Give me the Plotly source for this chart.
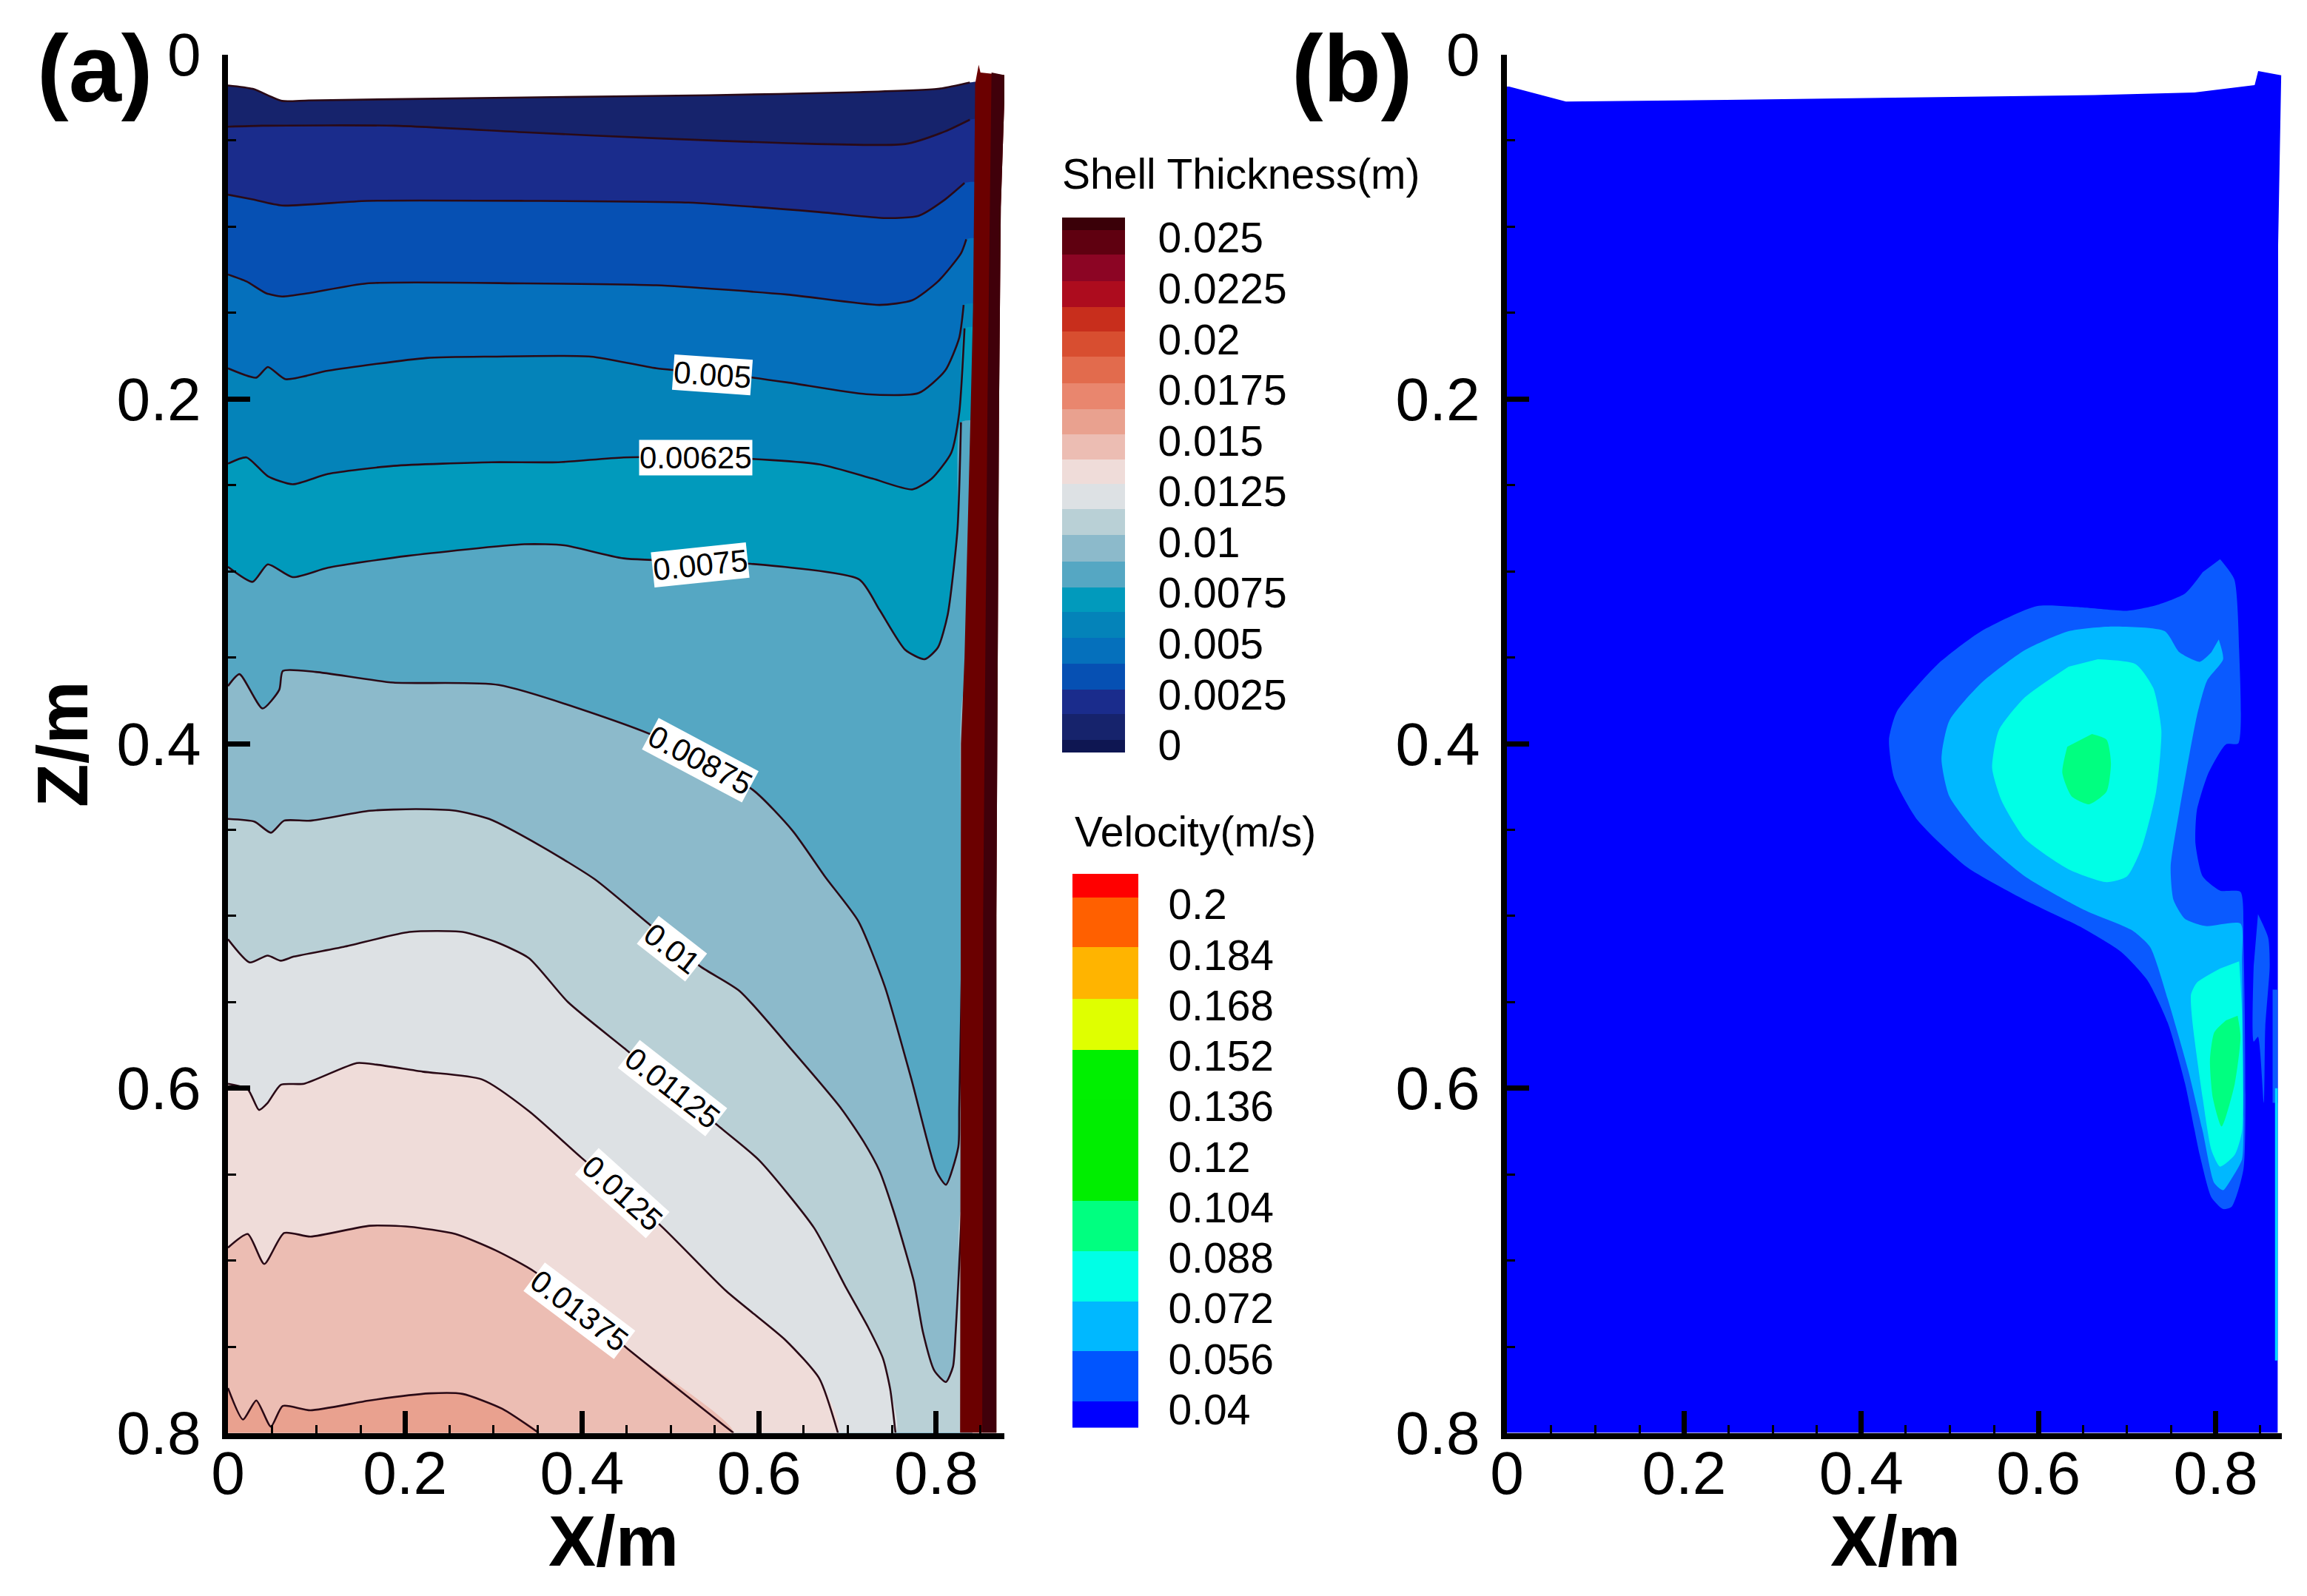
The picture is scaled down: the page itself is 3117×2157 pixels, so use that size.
import plotly.graph_objects as go

W, H = 3117, 2157

# ---------- Shell thickness contour lines (X/m, Z/m) ----------
surface_x = [0, .028, .061, .091, .335, .543, .706, .802, .838]
surface_z = [.018, .020, .027, .0267, .025, .0237, .022, .020, .0163]
L00125_x = [0, .039, .188, .335, .484, .632, .765, .81, .838]
L00125_z = [.042, .0414, .0414, .0452, .0487, .0515, .052, .0447, .0379]
L0025_x = [0, .028, .061, .157, .335, .52, .668, .743, .78, .81, .832]
L0025_z = [.0814, .0842, .0877, .085, .085, .086, .0915, .095, .0937, .0842, .0746]
L00375_x = [0, .021, .043, .061, .091, .157, .335, .484, .632, .736, .773, .802, .828, .834]
L00375_z = [.1277, .1318, .1386, .1405, .1386, .1329, .1329, .134, .1394, .1454, .1427, .1318, .1155, .1073]
L005_x = [0, .032, .045, .065, .113, .224, .298, .41, .484, .573, .632, .721, .78, .81, .826, .831]
L005_z = [.1822, .1876, .1814, .1885, .1836, .1762, .1754, .1754, .1822, .1863, .1904, .1972, .1966, .1836, .1645, .1454]
L00625_x = [0, .021, .045, .073, .113, .187, .298, .373, .447, .558, .669, .728, .773, .795, .817, .826, .832]
L00625_z = [.2375, .2339, .2448, .2495, .2435, .2388, .2367, .2367, .2339, .2339, .238, .2462, .2525, .2462, .2312, .208, .159]
L0075_x = [0, .028, .045, .073, .113, .202, .335, .38, .447, .58, .713, .736, .765, .787, .802, .813, .824, .828]
L0075_z = [.2974, .3061, .296, .3034, .2979, .2911, .2843, .2849, .2925, .2952, .3047, .3224, .3456, .351, .3442, .3252, .2761, .2135]
L00875_x = [0, .013, .039, .058, .062, .099, .187, .306, .484, .593, .638, .675, .712, .742, .772, .80, .811, .825, .826, .83, .832]
L00875_z = [.3666, .3597, .3796, .3687, .3578, .3584, .3646, .366, .396, .4269, .4507, .4776, .503, .541, .5948, .648, .656, .634, .612, .5, .37]
L01_x = [0, .03, .0485, .0634, .0933, .16, .2127, .2575, .295, .354, .414, .474, .5336, .578, .638, .693, .718, .736, .751, .765, .775, .785, .798, .811, .819, .822, .825, .829]
L01_z = [.4437, .4453, .4517, .4447, .4447, .439, .438, .439, .4437, .4596, .4786, .504, .5293, .5436, .5784, .612, .631, .648, .67, .694, .7127, .7415, .764, .7705, .7615, .7415, .7127, .67]
L01125_x = [0, .0246, .0448, .0597, .0746, .1306, .205, .265, .302, .34, .384, .4515, .556, .60, .662, .698, .723, .74, .748, .754]
L01125_z = [.5135, .527, .523, .526, .5236, .518, .5093, .5093, .515, .5245, .55, .5784, .6228, .6418, .681, .7156, .7386, .757, .7745, .80]
L0125_x = [0, .0224, .035, .0448, .0597, .0858, .1455, .168, .22, .287, .34, .399, .489, .563, .63, .668, .689]
L0125_z = [.5974, .6006, .6126, .6085, .598, .5974, .5854, .5863, .5904, .5949, .6133, .6402, .6798, .7178, .7463, .7685, .80]
L01375_x = [0, .0224, .041, .0634, .0933, .16, .205, .257, .302, .347, .451, .571]
L01375_z = [.6925, .6846, .702, .684, .6861, .6798, .6804, .6846, .694, .7067, .751, .80]
L015_x = [0, .017, .032, .0485, .0619, .093, .16, .2276, .265, .3097, .351]
L015_z = [.774, .7923, .7812, .7964, .7844, .7869, .7812, .7771, .7774, .786, .80]

shell_lines = [
    (surface_x, surface_z), (L00125_x, L00125_z), (L0025_x, L0025_z), (L00375_x, L00375_z),
    (L005_x, L005_z), (L00625_x, L00625_z), (L0075_x, L0075_z), (L00875_x, L00875_z),
    (L01_x, L01_z), (L01125_x, L01125_z), (L0125_x, L0125_z), (L01375_x, L01375_z), (L015_x, L015_z),
]
shell_band_colors = ["#16236c", "#1a2c8c", "#0650b3", "#0570bc", "#0483b9", "#019abc", "#55a7c3",
                     "#8cbacb", "#b9d0d6", "#dde1e4", "#efdcd9", "#ecbdb3", "#e9a18f"]

wall_x = [.844, .848, .85, .877, .877, .873, .871, .868, .868, .827, .828, .832, .839, .8416, .843]
wall_z = [.017, .006, .0105, .012, .027, .0887, .2046, .5, .80, .80, .4, .35, .2046, .1475, .076]
wall_dark_x = [.8625, .877, .877, .873, .871, .868, .868, .852, .853, .858]
wall_dark_z = [.0105, .012, .027, .0887, .2046, .5, .80, .80, .5, .2]

contour_labels = ["0.005", "0.00625", "0.0075", "0.00875", "0.01", "0.01125", "0.0125", "0.01375"]
contour_label_x = [.547, .5285, .5335, .5335, .502, .502, .4454, .397]
contour_label_z = [.186, .2339, .2962, .4098, .519, .600, .6607, .729]
contour_label_angle = [4, 0, -6, 28, 38, 38, 42, 37]

# ---------- Velocity regions (X/m, Z/m) ----------
domain_x = [.0025, .0666, .2478, .474, .663, .776, .844, .848, .874, .8705, .87, 0, 0]
domain_z = [.0187, .0274, .0264, .025, .0236, .0221, .0178, .0097, .0121, .1114, .80, .80, .0187]
v056_x = [.805, .821, .8265, .8255, .8117, .792, .7788, .7772, .7854, .805, .828, .8314, .8314, .818, .8084, .7952, .782, .7656, .7459, .7229, .6933, .6506, .5848, .5191, .4632, .4369, .4313, .4402, .4862, .5355, .598, .6506, .6999, .7328, .7656, .7854]
v056_z = [.293, .3046, .3457, .3999, .4004, .4169, .4388, .4579, .4771, .4853, .4861, .5154, .6469, .6688, .6701, .6633, .6387, .5976, .562, .5373, .5209, .5072, .4908, .4716, .4442, .4196, .3977, .3813, .3539, .3347, .3202, .321, .3229, .3197, .3128, .3005]
v072_x = [.8035, .8084, .7903, .7788, .7591, .7492, .7525, .7656, .7886, .8281, .8297, .8314, .8297, .8182, .8084, .7985, .7854, .7689, .7459, .7262, .7065, .6506, .5848, .5355, .4994, .4905, .4994, .5355, .5848, .6341, .6835, .7426, .7591, .7821, .7952]
v072_z = [.3396, .3511, .3635, .384, .4388, .4716, .4908, .5018, .5059, .5045, .5264, .625, .6414, .6523, .6592, .6551, .625, .5894, .5483, .5182, .5086, .4963, .4771, .4552, .4306, .4087, .3867, .3648, .3457, .3347, .332, .3347, .347, .3525, .347]
v088_x = [.667, .7098, .7295, .7387, .7328, .7163, .6999, .6769, .6341, .5848, .5585, .5477, .5553, .5848, .6341]
v088_z = [.3511, .3539, .3676, .3922, .4278, .4607, .4771, .4804, .473, .4552, .4333, .4141, .3922, .3731, .3553]
v104_x = [.6604, .6769, .6818, .6769, .6572, .6374, .6269, .6325]
v104_z = [.3944, .3977, .4114, .4278, .4352, .4306, .4169, .4018]
low088_x = [.8265, .8297, .8297, .8215, .805, .7952, .7854, .7739, .7722, .7788, .805]
low088_z = [.5264, .5565, .625, .6387, .6455, .6359, .6058, .562, .5456, .5387, .5305]
low104_x = [.8248, .8281, .8215, .8067, .7969, .7936, .7985, .8117]
low104_z = [.5579, .5702, .5976, .6222, .6058, .5839, .5675, .5606]
wisp_x = [.8478, .8593, .861, .856, .8544, .8478, .8429, .8429]
wisp_z = [.499, .5127, .5291, .5647, .6085, .5702, .573, .5291]
edge_blue_x = [.8643, .87, .87, .8643]
edge_blue_z = [.5428, .5428, .6085, .6085]
edge_cyan_x = [.867, .87, .87, .867]
edge_cyan_z = [.6, .6, .758, .758]

velocity_regions = [
    (v056_x, v056_z, "#0a5aff"), (v072_x, v072_z, "#00b8ff"), (v088_x, v088_z, "#00ffe6"),
    (v104_x, v104_z, "#00ff80"), (low088_x, low088_z, "#00ffe6"), (low104_x, low104_z, "#00ff80"),
    (wisp_x, wisp_z, "#0a5aff"),
]

# ---------- Axes ticks ----------
major_ticks = [0, .2, .4, .6, .8]
major_labels = ["0", "0.2", "0.4", "0.6", "0.8"]

# ---------- Legends ----------
shell_ticks = [0, .0025, .005, .0075, .01, .0125, .015, .0175, .02, .0225, .025]
shell_tick_labels = ["0", "0.0025", "0.005", "0.0075", "0.01", "0.0125", "0.015", "0.0175", "0.02", "0.0225", "0.025"]
shell_edges = [-.00036, .00027, .00154, .00273, .00403, .00528, .00656, .00776, .00905, .01035, .01163,
               .01286, .01409, .01533, .01654, .01784, .01913, .02037, .0216, .02288, .02418, .02537, .026]
shell_colors = ["#0e1652", "#16236c", "#1a2c8c", "#0650b3", "#0570bc", "#0483b9", "#019abc", "#55a7c3",
                "#8cbacb", "#b9d0d6", "#dde1e4", "#efdcd9", "#ecbdb3", "#e9a18f", "#e9866e", "#e26b4d",
                "#d84e30", "#c82e1c", "#ad0c1e", "#8c0524", "#5f0010", "#3a0008"]
vel_ticks = [.04, .056, .072, .088, .104, .12, .136, .152, .168, .184, .2]
vel_tick_labels = ["0.04", "0.056", "0.072", "0.088", "0.104", "0.12", "0.136", "0.152", "0.168", "0.184", "0.2"]
vel_edges = [.0342, .0426, .0585, .0742, .0902, .1062, .1382, .1539, .1701, .1865, .2022, .2098]
vel_colors = ["#0000ff", "#0055ff", "#00b8ff", "#00ffe6", "#00ff80", "#00ee00", "#00f000",
              "#dfff00", "#ffb400", "#ff6000", "#ff0000"]

FONT = "Liberation Sans"
LINE = "#2a0a16"
fig = go.Figure()


def poly(xs, zs, color, xa="x", ya="y", smooth=False):
    line = dict(width=0, color=color)
    if smooth:
        line.update(shape="spline", smoothing=.6)
    fig.add_trace(go.Scatter(x=xs, y=zs, mode="lines", fill="toself", fillcolor=color, line=line,
                             xaxis=xa, yaxis=ya, showlegend=False, hoverinfo="skip"))


# panel (a): painted from the surface down; the closing run stays hidden under the wall
HIDDEN_X = .848
HIDDEN_STEPS = [.1, .2, .3, .4, .5, .6, .7, .78]
for (lx, lz), col in zip(shell_lines, shell_band_colors):
    if lz[-1] >= .8:
        px, pz = list(lx) + [.3, 0], list(lz) + [.81, .81]
    else:
        steps = [s for s in HIDDEN_STEPS if s > lz[-1] + .02]
        px = list(lx) + [HIDDEN_X] * (len(steps) + 1) + [.83, .5, 0]
        pz = list(lz) + [lz[-1]] + steps + [.81, .81, .81]
    poly(px, pz, col, smooth=True)
for lx, lz in shell_lines:
    fig.add_trace(go.Scatter(x=lx, y=lz, mode="lines",
                             line=dict(color=LINE, width=2.6, shape="spline", smoothing=.6),
                             showlegend=False, hoverinfo="skip"))
poly(wall_x, wall_z, "#6b0000")
poly(wall_dark_x, wall_dark_z, "#40000a")

# panel (b)
poly(domain_x, domain_z, "#0000ff", "x2", "y2")
for rx, rz, col in velocity_regions:
    poly(rx, rz, col, "x2", "y2", smooth=True)
poly(edge_blue_x, edge_blue_z, "#0a5aff", "x2", "y2")
poly(edge_cyan_x, edge_cyan_z, "#00d8ff", "x2", "y2")

# legends
for edges, cols, xa, ya in ((shell_edges, shell_colors, "x3", "y3"), (vel_edges, vel_colors, "x4", "y4")):
    fig.add_trace(go.Bar(x=[0] * len(cols), base=edges[:-1],
                         y=[b - a for a, b in zip(edges[:-1], edges[1:])],
                         width=1, marker=dict(color=cols, line=dict(width=0)),
                         xaxis=xa, yaxis=ya, showlegend=False, hoverinfo="skip"))


def dom(a, b, size):
    return [a / size, b / size]


def ydom(top, bottom):
    return [1 - bottom / H, 1 - top / H]


def main_x(x0, x1, end, anchor):
    return dict(domain=dom(x0, x1, W), range=[0, end], anchor=anchor, showgrid=False, zeroline=False,
                automargin=False, showline=True, linecolor="black", linewidth=8, ticks="inside", ticklen=30,
                tickwidth=7, tickcolor="black", tickvals=major_ticks, ticktext=major_labels,
                tickfont=dict(family=FONT, size=82, color="black"), ticklabelstandoff=-24,
                minor=dict(dtick=.05, tick0=0, ticks="inside", ticklen=11, tickwidth=3, tickcolor="black"))


def main_y(anchor):
    return dict(domain=ydom(73.5, 1936.5), range=[.8, 0], anchor=anchor, showgrid=False, zeroline=False,
                automargin=False, showline=True, linecolor="black", linewidth=8, ticks="inside", ticklen=30,
                tickwidth=7, tickcolor="black", tickvals=major_ticks, ticktext=major_labels,
                tickfont=dict(family=FONT, size=82, color="black"), ticklabelstandoff=12,
                minor=dict(dtick=.05, tick0=0, ticks="inside", ticklen=11, tickwidth=3, tickcolor="black"))


def legend_x(x0, x1, anchor):
    return dict(domain=dom(x0, x1, W), range=[-.5, .5], anchor=anchor, visible=False, automargin=False)


def legend_y(top, bottom, rng, ticks, labels, anchor, ticklen):
    return dict(domain=ydom(top, bottom), range=rng, anchor=anchor, side="right", showgrid=False,
                automargin=False, zeroline=False, showline=False, ticks="outside", ticklen=ticklen,
                tickcolor="rgba(0,0,0,0)", tickvals=ticks, ticktext=labels,
                tickfont=dict(family=FONT, size=57, color="black"))


annotations = []
for txt, x, z, ang in zip(contour_labels, contour_label_x, contour_label_z, contour_label_angle):
    annotations.append(dict(text=txt, x=x, y=z, xref="x", yref="y", showarrow=False, textangle=ang,
                            bgcolor="white", borderpad=0, font=dict(family=FONT, size=42, color="black"),
                            xanchor="center", yanchor="middle"))


def paper_text(txt, px, py, size, bold=False, anchor="center", angle=0):
    annotations.append(dict(text=f"<b>{txt}</b>" if bold else txt, x=px / W, y=1 - py / H, xref="paper",
                            yref="paper", showarrow=False, textangle=angle, xanchor=anchor, yanchor="middle",
                            font=dict(family=FONT, size=size, color="black")))


paper_text("(a)", 128, 93, 128, True)
paper_text("(b)", 1827, 93, 128, True)
paper_text("X/m", 829, 2082, 96, True)
paper_text("X/m", 2561, 2082, 96, True)
paper_text("Z/m", 84, 1006, 96, True, angle=-90)
paper_text("Shell Thickness(m)", 1433, 235, 57, anchor="left")
paper_text("Velocity(m/s)", 1450, 1124, 57, anchor="left")

fig.update_layout(
    width=W, height=H, margin=dict(l=0, r=0, t=0, b=0, autoexpand=False), paper_bgcolor="white",
    plot_bgcolor="rgba(0,0,0,0)", barmode="overlay", bargap=0, showlegend=False, annotations=annotations,
    xaxis=main_x(308, 1357, .877, "y"), yaxis=main_y("x"),
    xaxis2=main_x(2036, 3083, .8747, "y2"), yaxis2=main_y("x2"),
    xaxis3=legend_x(1435, 1520, "y3"),
    yaxis3=legend_y(294, 1017, [shell_edges[0], shell_edges[-1]], shell_ticks, shell_tick_labels, "x3", 32),
    xaxis4=legend_x(1449, 1538, "y4"),
    yaxis4=legend_y(1180.5, 1929.6, [vel_edges[0], vel_edges[-1]], vel_ticks, vel_tick_labels, "x4", 28),
)

fig.write_html("out.html", config={"displayModeBar": False},
               post_script="document.body.style.margin='0';")
